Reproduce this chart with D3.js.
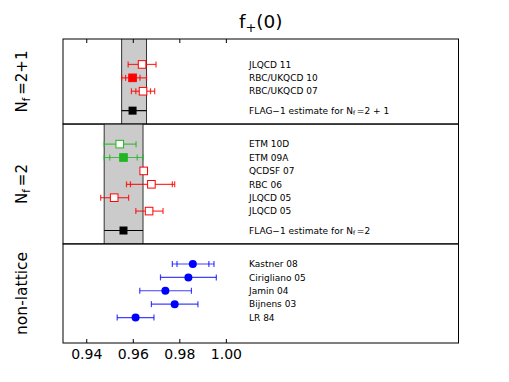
<!DOCTYPE html>
<html>
<head>
<meta charset="utf-8">
<script src="https://cdn.jsdelivr.net/npm/d3@7"></script>
<style>
  body { margin: 0; background: #fff; }
  svg { font-family: "DejaVu Sans", sans-serif; }
</style>
</head>
<body>
<div id="chart"></div>
<script>
// ---- data ----
// Nf = 2+1
const nf21_labels = ["JLQCD 11", "RBC/UKQCD 10", "RBC/UKQCD 07"];
const nf21_values = [0.964, 0.9599, 0.9644];
const nf21_total = [[0.958, 0.970], [0.9552, 0.9659], [0.9594, 0.9694]];
const nf21_stat = [null, [0.9569, 0.9631], [0.9613, 0.9676]];
const nf21_ok = [false, false, false]; // green if criteria met, red otherwise
const nf21_used = [false, true, false]; // filled if used in the average
const nf21_flag = { value: 0.9599, lo: 0.9552, hi: 0.9659 };

// Nf = 2
const nf2_labels = ["ETM 10D", "ETM 09A", "QCDSF 07", "RBC 06", "JLQCD 05", "JLQCD 05"];
const nf2_values = [0.9544, 0.956, 0.9647, 0.968, 0.952, 0.967];
const nf2_total = [[0.9477, 0.9614], [0.9477, 0.9644], null, [0.9573, 0.978], [0.9462, 0.9582], [0.9613, 0.973]];
const nf2_stat = [null, [0.9501, 0.9619], null, [0.959, 0.977], null, null];
const nf2_ok = [true, true, false, false, false, false];
const nf2_used = [false, true, false, false, false, false];
const nf2_flag = { value: 0.956, lo: 0.9477, hi: 0.9644 };

// non-lattice
const nl_labels = ["Kastner 08", "Cirigliano 05", "Jamin 04", "Bijnens 03", "LR 84"];
const nl_values = [0.9858, 0.9839, 0.974, 0.978, 0.9612];
const nl_total = [[0.977, 0.9949], [0.9719, 0.9959], [0.963, 0.9852], [0.968, 0.988], [0.9533, 0.9691]];
const nl_stat = [[0.979, 0.9927], null, null, null, null];

const xTicks = [0.94, 0.96, 0.98, 1.00];

// ---- layout ----
const W = 509, H = 382;
const margin = { left: 63, right: 458.5, top: 39, bottom: 343 };

const svg = d3.select("#chart").append("svg")
  .attr("width", W).attr("height", H);

const x = d3.scaleLinear().domain([0.93, 1.1]).range([margin.left, margin.right]);

// y in "row units", one row per entry
const panels = [
  { name: "nf21", labels: nf21_labels, values: nf21_values, total: nf21_total, stat: nf21_stat,
    ok: nf21_ok, used: nf21_used, flag: nf21_flag, flagText: "2 + 1", padTop: 1.9, padBottom: 1 },
  { name: "nf2", labels: nf2_labels, values: nf2_values, total: nf2_total, stat: nf2_stat,
    ok: nf2_ok, used: nf2_used, flag: nf2_flag, flagText: "2", padTop: 1.5, padBottom: 1 },
  { name: "nl", labels: nl_labels, values: nl_values, total: nl_total, stat: nl_stat,
    ok: null, used: null, flag: null, padTop: 1.5, padBottom: 1.9 }
];

let cursor = 0;
panels.forEach(p => {
  p.y0 = cursor;
  p.rows = p.labels.map((_, i) => cursor + p.padTop + i);
  let last = p.rows[p.rows.length - 1];
  if (p.flag) { p.flagRow = last + 1.45; last = p.flagRow; }
  p.y1 = last + p.padBottom;
  cursor = p.y1;
});

const y = d3.scaleLinear().domain([0, cursor]).range([margin.top, margin.bottom]);

const red = "#ff0000", green = "#22b522", blue = "#0000ff";

function capLines(g, vals, yy, color, cap, op) {
  vals.forEach(v => {
    g.append("line")
      .attr("x1", x(v)).attr("x2", x(v))
      .attr("y1", yy - cap).attr("y2", yy + cap)
      .attr("stroke", color).attr("stroke-opacity", op).attr("stroke-width", 1.2);
  });
}

// text with a subscript part that returns to the baseline afterwards
function subText(t, before, sub, after, subSize, shift) {
  t.append("tspan").text(before);
  t.append("tspan").attr("font-size", subSize).attr("dy", shift).text(sub);
  t.append("tspan").attr("dy", -shift).text(after);
}

panels.forEach(p => {
  const g = svg.append("g").attr("class", "panel-" + p.name);
  const py0 = y(p.y0), py1 = y(p.y1);

  // grey FLAG band
  if (p.flag) {
    g.append("rect")
      .attr("x", x(p.flag.lo)).attr("y", py0)
      .attr("width", x(p.flag.hi) - x(p.flag.lo)).attr("height", py1 - py0)
      .attr("fill", "#cbcbcb");
    [p.flag.lo, p.flag.hi].forEach(v => {
      g.append("line")
        .attr("x1", x(v)).attr("x2", x(v))
        .attr("y1", py0).attr("y2", py1)
        .attr("stroke", "#333").attr("stroke-width", 1);
    });
  }

  // frame
  g.append("rect")
    .attr("x", margin.left).attr("y", py0)
    .attr("width", margin.right - margin.left).attr("height", py1 - py0)
    .attr("fill", "none").attr("stroke", "#000").attr("stroke-width", 1);

  p.labels.forEach((lab, i) => {
    const yy = y(p.rows[i]);
    const color = p.ok === null ? blue : (p.ok[i] ? green : red);
    const op = p.ok === null ? 0.75 : 0.8;
    if (p.total[i]) {
      g.append("line")
        .attr("x1", x(p.total[i][0])).attr("x2", x(p.total[i][1]))
        .attr("y1", yy).attr("y2", yy)
        .attr("stroke", color).attr("stroke-opacity", op).attr("stroke-width", 1.2);
      capLines(g, p.total[i], yy, color, 3, op);
    }
    if (p.stat[i]) capLines(g, p.stat[i], yy, color, 3, op);
    if (p.ok === null) {
      g.append("circle")
        .attr("cx", x(p.values[i])).attr("cy", yy).attr("r", 4)
        .attr("fill", blue);
    } else {
      const filled = p.used[i];
      g.append("rect")
        .attr("x", x(p.values[i]) - 3.8).attr("y", yy - 3.8)
        .attr("width", 7.6).attr("height", 7.6)
        .attr("fill", filled ? color : "#fff")
        .attr("stroke", color).attr("stroke-width", 1);
    }
    g.append("text")
      .attr("x", 249).attr("y", yy).attr("dy", "0.36em")
      .attr("font-size", 9).attr("fill", "#000")
      .text(lab);
  });

  if (p.flag) {
    const yy = y(p.flagRow);
    g.append("line")
      .attr("x1", x(p.flag.lo)).attr("x2", x(p.flag.hi))
      .attr("y1", yy).attr("y2", yy)
      .attr("stroke", "#000").attr("stroke-width", 1.2);
    g.append("rect")
      .attr("x", x(p.flag.value) - 4).attr("y", yy - 4)
      .attr("width", 8).attr("height", 8).attr("fill", "#000");
    const t = g.append("text")
      .attr("x", 249).attr("y", yy + 3.2)
      .attr("font-size", 9).attr("fill", "#000");
    subText(t, "FLAG\u22121 estimate for N", "f", "\u2009=" + p.flagText, 6, 1.5);
  }
});

// axes: ticks inside at top and bottom
const axTop = svg.append("g").attr("transform", `translate(0,${margin.top})`)
  .call(d3.axisTop(x).tickValues(xTicks).tickSize(-4).tickFormat(""));
axTop.select(".domain").remove();

const axBot = svg.append("g").attr("transform", `translate(0,${margin.bottom})`)
  .call(d3.axisBottom(x).tickValues(xTicks).tickSize(-4).tickPadding(6)
    .tickFormat(d3.format(".2f")));
axBot.select(".domain").remove();
axBot.selectAll("text").attr("font-size", 14).attr("font-family", "DejaVu Sans").attr("fill", "#000");
axTop.selectAll("line").attr("stroke", "#000");
axBot.selectAll("line").attr("stroke", "#000");

// panel labels (rotated)
const sideLabels = [["N", "f", "\u2009=2+1"], ["N", "f", "\u2009=2"], ["non-lattice"]];
panels.forEach((p, i) => {
  const cy = (y(p.y0) + y(p.y1)) / 2;
  const t = svg.append("text")
    .attr("transform", `translate(27,${cy}) rotate(-90)`)
    .attr("text-anchor", "middle")
    .attr("font-size", 15).attr("fill", "#000");
  const parts = sideLabels[i];
  if (parts.length === 1) {
    t.attr("font-size", 15.5).text(parts[0]);
  } else {
    subText(t, parts[0], parts[1], parts[2], 10, 3);
  }
});

// title f+(0)
const title = svg.append("text")
  .attr("x", (margin.left + margin.right) / 2).attr("y", 28)
  .attr("text-anchor", "middle").attr("font-size", 18.5).attr("fill", "#000");
subText(title, "f", "+", "(0)", 13, 4);
</script>
</body>
</html>
